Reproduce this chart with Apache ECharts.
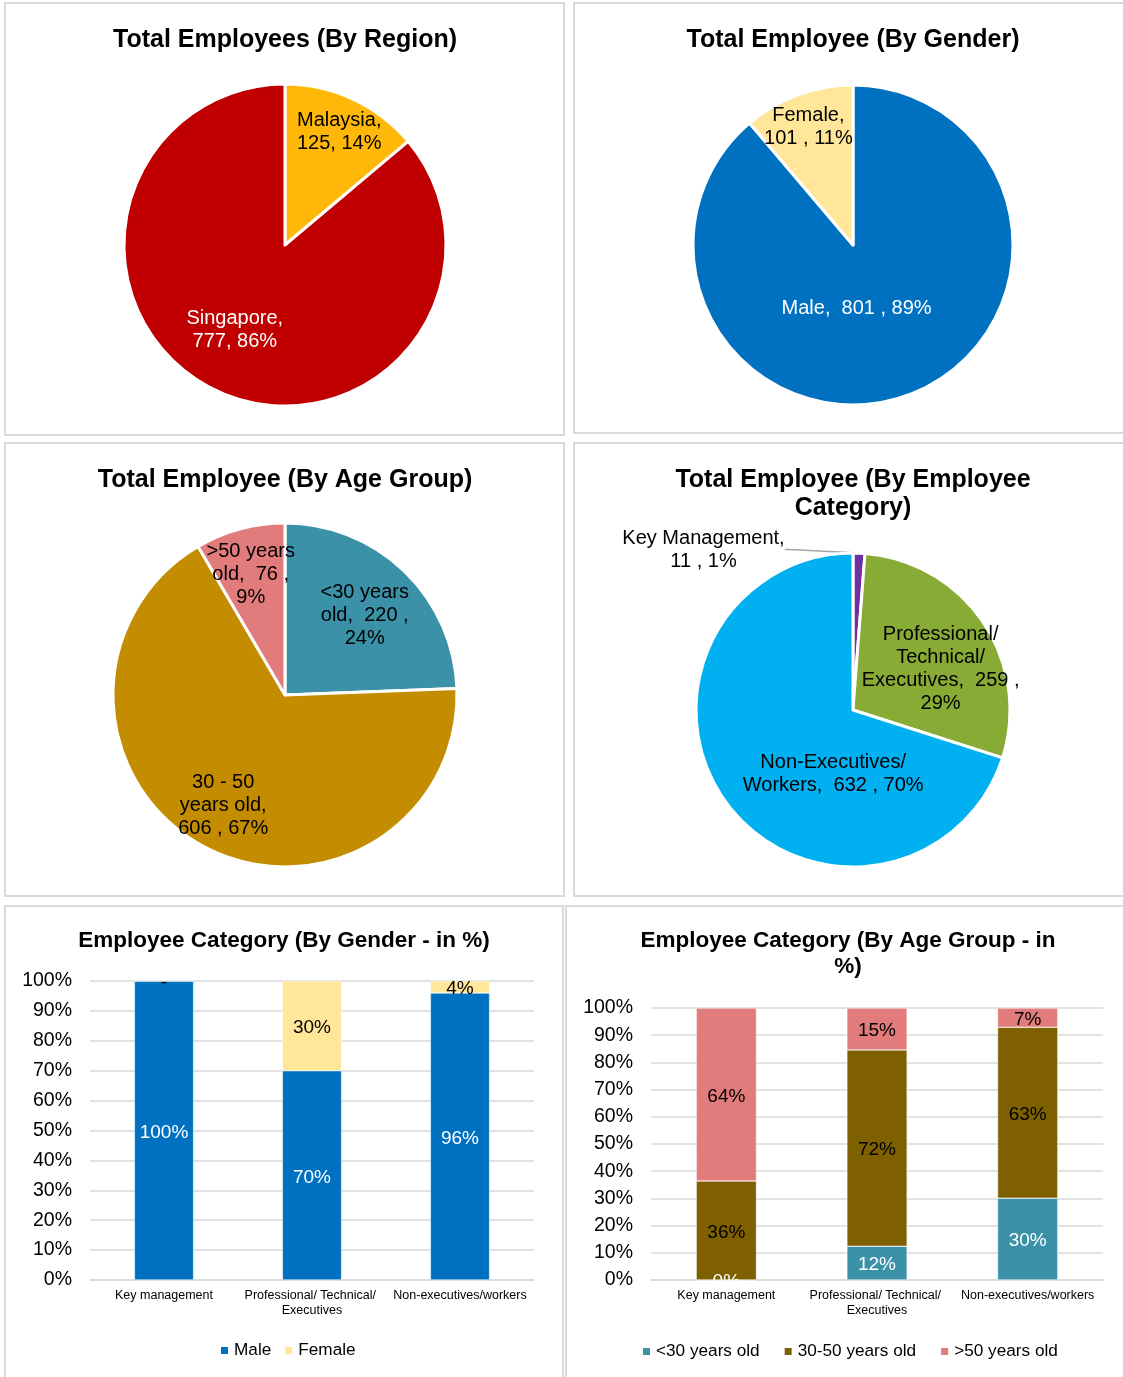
<!DOCTYPE html>
<html>
<head>
<meta charset="utf-8">
<script src="https://cdn.jsdelivr.net/npm/echarts@6/dist/echarts.min.js"></script>
<style>
  html, body { margin: 0; padding: 0; background: #fff; }
  #main { width: 1123px; height: 1377px; }
</style>
</head>
<body>
<div id="main"></div>
<script>
// pie data
var regionNames = ['Malaysia', 'Singapore'];
var regionValues = [125, 777];
var regionLabels = ['{b},\n{c}, {d}%', '{b},\n{c}, {d}%'];

var genderNames = ['Male', 'Female'];
var genderValues = [801, 101];
var genderLabels = ['{b},  {c} , {d}%', '{b},\n{c} , {d}%'];

var ageNames = ['<30 years old', '30 - 50 years old', '>50 years old'];
var ageValues = [220, 606, 76];
var ageLabels = ['<30 years\nold,  {c} ,\n{d}%', '30 - 50\nyears old,\n{c} , {d}%', '>50 years\nold,  {c} ,\n{d}%'];

var catNames = ['Key Management', 'Professional/ Technical/ Executives', 'Non-Executives/ Workers'];
var catValues = [11, 259, 632];
var catLabels = ['Key Management,\n{c} , {d}%', 'Professional/\nTechnical/\nExecutives,  {c} ,\n{d}%', 'Non-Executives/\nWorkers,  {c} , {d}%'];

// bar data (in %)
var barCategories = ['Key management', 'Professional/ Technical/ Executives', 'Non-executives/workers'];
var maleShare = [100, 70, 96];
var femaleShare = [0, 30, 4];
var under30Share = [0, 12.4, 30.1];
var mid30to50Share = [36.4, 72.2, 62.8];
var over50Share = [63.6, 15.4, 7.1];
var pctTicks = [0, 100, 10]; // min, max, interval

var FONT = '"Liberation Sans", Arial, sans-serif';

var myChart = echarts.init(document.getElementById('main'), null, { renderer: 'canvas' });

function pieData(names, values, colors, labels, labelColors) {
    var out = [];
    for (var i = 0; i < names.length; i++) {
        out.push({
            name: names[i],
            value: values[i],
            itemStyle: { color: colors[i] },
            label: { formatter: labels[i], color: labelColors[i] }
        });
    }
    return out;
}

// move the inside labels a bit, like excel's best fit does
function shiftLabels(shifts) {
    return function(params) {
        var s = shifts[params.dataIndex];
        return { dx: s[0], dy: s[1] };
    };
}

function pieSeries(center, radius, data, shifts) {
    return {
        type: 'pie',
        center: center,
        radius: radius,
        startAngle: 90,
        clockwise: true,
        percentPrecision: 0,
        animation: false,
        silent: true,
        itemStyle: { borderColor: '#fff', borderWidth: 3 },
        label: {
            show: true,
            position: 'inside',
            fontFamily: FONT,
            fontSize: 20,
            lineHeight: 23,
            align: 'center'
        },
        labelLine: { show: false },
        labelLayout: shiftLabels(shifts),
        data: data
    };
}

function barSeries(name, values, color, labelColor, idx) {
    return {
        name: name,
        type: 'bar',
        stack: 'total' + idx,
        xAxisIndex: idx,
        yAxisIndex: idx,
        barWidth: '40%',
        animation: false,
        silent: true,
        itemStyle: { color: color, borderColor: '#fff', borderWidth: 0.5 },
        label: {
            show: true,
            position: 'inside',
            fontFamily: FONT,
            fontSize: 19,
            color: labelColor,
            offset: [0, 2],
            formatter: function(p) {
                return p.value === 0 && idx === 0 ? '-' : Math.round(p.value) + '%';
            }
        },
        data: values
    };
}

var titleStyle = { fontFamily: FONT, fontWeight: 'bold', fontSize: 25, color: '#000', lineHeight: 28 };
var barTitleStyle = { fontFamily: FONT, fontWeight: 'bold', fontSize: 22.5, color: '#000', lineHeight: 26 };

var catShifts = [[0, 0], [20, 4], [46, 16]];
var catSeries = pieSeries([853, 710], 157,
    pieData(catNames, catValues, ['#7030A0', '#87AB35', '#00B0F0'], catLabels, ['#000', '#000', '#000']),
    catShifts);
catSeries.data[0].label.position = 'outside';
catSeries.data[0].labelLine = { show: true, length: 5, length2: 5, lineStyle: { color: '#A6A6A6', width: 1.5 } };
catSeries.labelLayout = function(params) {
    if (params.dataIndex === 0) {
        // key management sits outside, up-left of its thin slice
        return { x: params.rect.x - 148, y: params.rect.y - 2, align: 'center', verticalAlign: 'middle' };
    }
    var s = catShifts[params.dataIndex];
    return { dx: s[0], dy: s[1] };
};

function yAxisOpt(idx) {
    return {
        type: 'value',
        gridIndex: idx,
        min: pctTicks[0],
        max: pctTicks[1],
        interval: pctTicks[2],
        axisLine: { show: false },
        axisTick: { show: false },
        axisLabel: { formatter: '{value}%', fontFamily: FONT, fontSize: 19.5, color: '#000', margin: 18 },
        splitLine: { lineStyle: { color: '#D9D9D9', width: 1.5 } }
    };
}

function xAxisOpt(idx) {
    return {
        type: 'category',
        gridIndex: idx,
        data: barCategories,
        axisLine: { lineStyle: { color: '#D9D9D9', width: 1.5 } },
        axisTick: { show: false },
        axisLabel: {
            interval: 0,
            fontFamily: FONT,
            fontSize: 12.5,
            lineHeight: 15,
            color: '#000',
            margin: 8,
            width: 148,
            overflow: 'break'
        }
    };
}

var legendText = { fontFamily: FONT, fontSize: 17.2, color: '#000' };

var option = {
    backgroundColor: '#fff',
    textStyle: { fontFamily: FONT },
    graphic: [
        { type: 'rect', shape: { x: 5, y: 3, width: 559, height: 432 }, style: { fill: 'none', stroke: '#D9D9D9', lineWidth: 2 } },
        { type: 'rect', shape: { x: 574, y: 3, width: 551, height: 430 }, style: { fill: 'none', stroke: '#D9D9D9', lineWidth: 2 } },
        { type: 'rect', shape: { x: 5, y: 443, width: 559, height: 453 }, style: { fill: 'none', stroke: '#D9D9D9', lineWidth: 2 } },
        { type: 'rect', shape: { x: 574, y: 443, width: 551, height: 453 }, style: { fill: 'none', stroke: '#D9D9D9', lineWidth: 2 } },
        { type: 'rect', shape: { x: 5, y: 906, width: 558, height: 480 }, style: { fill: 'none', stroke: '#D9D9D9', lineWidth: 2 } },
        { type: 'rect', shape: { x: 566, y: 906, width: 559, height: 480 }, style: { fill: 'none', stroke: '#D9D9D9', lineWidth: 2 } }
    ],
    title: [
        { text: 'Total Employees (By Region)', left: 285, top: 26, padding: 0, textAlign: 'center', textStyle: titleStyle },
        { text: 'Total Employee (By Gender)', left: 853, top: 26, padding: 0, textAlign: 'center', textStyle: titleStyle },
        { text: 'Total Employee (By Age Group)', left: 285, top: 466, padding: 0, textAlign: 'center', textStyle: titleStyle },
        { text: 'Total Employee (By Employee\nCategory)', left: 853, top: 466, padding: 0, textAlign: 'center', textStyle: titleStyle },
        { text: 'Employee Category (By Gender - in %)', left: 284, top: 928, padding: 0, textAlign: 'center', textStyle: barTitleStyle },
        { text: 'Employee Category (By Age Group - in\n%)', left: 848, top: 928, padding: 0, textAlign: 'center', textStyle: barTitleStyle }
    ],
    grid: [
        { left: 90, top: 981, width: 444, height: 299 },
        { left: 651, top: 1008, width: 452, height: 272 }
    ],
    xAxis: [xAxisOpt(0), xAxisOpt(1)],
    yAxis: [yAxisOpt(0), yAxisOpt(1)],
    legend: [
        {
            data: ['Male', 'Female'],
            left: 214, top: 1337,
            icon: 'rect', itemWidth: 9, itemHeight: 9, itemGap: 12,
            textStyle: legendText,
            selectedMode: false
        },
        {
            data: ['<30 years old', '30-50 years old', '>50 years old'],
            left: 636, top: 1338,
            icon: 'rect', itemWidth: 9, itemHeight: 9, itemGap: 23,
            textStyle: legendText,
            selectedMode: false
        }
    ],
    series: [
        pieSeries([285, 245], 161,
            pieData(regionNames, regionValues, ['#FFB80A', '#C00000'], regionLabels, ['#000', '#fff']),
            [[19, -37], [-15, 9]]),
        pieSeries([853, 245], 160,
            pieData(genderNames, genderValues, ['#0070C0', '#FFE699'], genderLabels, ['#fff', '#000']),
            [[-25, -14], [-16, -40]]),
        pieSeries([285, 695], 172,
            pieData(ageNames, ageValues, ['#3A91A8', '#C48C00', '#E27B7B'], ageLabels, ['#000', '#000', '#000']),
            [[18, -15], [-19, 32], [-11, -35]]),
        catSeries,
        barSeries('Male', maleShare, '#0070C0', '#fff', 0),
        barSeries('Female', femaleShare, '#FFE699', '#000', 0),
        barSeries('<30 years old', under30Share, '#3A91A8', '#fff', 1),
        barSeries('30-50 years old', mid30to50Share, '#7F6000', '#000', 1),
        barSeries('>50 years old', over50Share, '#E27B7B', '#000', 1)
    ]
};

myChart.setOption(option);
</script>
</body>
</html>
